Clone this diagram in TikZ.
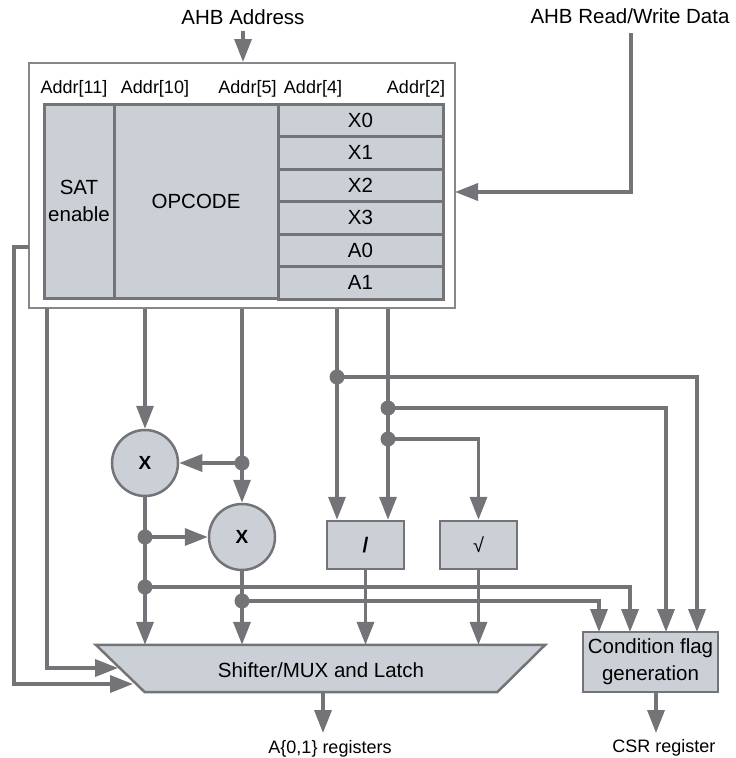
\documentclass[tikz,border=0pt]{standalone}
\usepackage{fontspec}
\setmainfont{Liberation Sans}
\usetikzlibrary{arrows.meta,calc}
\definecolor{ln}{RGB}{116,116,120}
\definecolor{fl}{RGB}{202,208,214}
\definecolor{bx}{RGB}{135,135,138}
\begin{document}
\begin{tikzpicture}[x=1pt,y=-1pt,
  wire/.style={draw=ln,line width=3.6pt},
  arr/.style={wire,-{Triangle[length=23pt,width=17pt]}},
  blk/.style={draw=ln,line width=3pt,fill=fl,inner sep=0pt,align=center,font=\fontsize{20.5}{27}\selectfont},
  circ/.style={circle,draw=ln,line width=2.5pt,fill=fl,minimum size=66pt,inner sep=0pt,font=\fontsize{19}{22}\selectfont\bfseries},
  big/.style={font=\fontsize{20.5}{27}\selectfont,inner sep=0pt},
  sml/.style={font=\fontsize{18}{22}\selectfont,inner sep=0pt},
]
\useasboundingbox (0,0) rectangle (736,758);

% titles
\node[big] (t1) at (243,17) {AHB Address};
\node[big] (t2) at (630,16) {AHB Read/Write Data};

% outer box
\node[draw=bx,line width=2pt,fill=white,minimum width=426pt,minimum height=245pt,inner sep=0pt] (outer) at (242,185.5) {};

% address labels
\node[sml] (a11) at (74,89) {Addr[11]};
\node[sml] (a10) at (155,89) {Addr[10]};
\node[sml] (a5) at (247.5,89) {Addr[5]};
\node[sml] (a4) at (313,89) {Addr[4]};
\node[sml] (a2) at (416,89) {Addr[2]};

% fields
\node[blk,minimum width=70pt,minimum height=194pt] (sat) at (79,201) {SAT\\enable};
\node[blk,minimum width=164pt,minimum height=194pt] (opc) at (196,201) {OPCODE};
\node[blk,minimum width=165pt,minimum height=32.5pt] (X0) at (360.5,120.25) {X0};
\node[blk,minimum width=165pt,minimum height=32.5pt] (X1) at (360.5,152.75) {X1};
\node[blk,minimum width=165pt,minimum height=32.5pt] (X2) at (360.5,185.25) {X2};
\node[blk,minimum width=165pt,minimum height=32.5pt] (X3) at (360.5,217.75) {X3};
\node[blk,minimum width=165pt,minimum height=32.5pt] (A0) at (360.5,250.25) {A0};
\node[blk,minimum width=165pt,minimum height=32.5pt] (A1) at (360.5,282.75) {A1};

% operators
\node[circ] (m1) at (145,463) {X};
\node[circ] (m2) at (242,537) {X};
\node[blk,line width=2.5pt,minimum width=77pt,minimum height=48pt,font=\fontsize{21}{24}\selectfont\bfseries] (div) at (365.5,545) {/};
\node[blk,line width=2.5pt,minimum width=77pt,minimum height=48pt,font=\fontsize{20}{24}\selectfont] (sq) at (478.5,545) {√};
\node[blk,line width=2.5pt,minimum width=135pt,minimum height=60pt] (cond) at (650.5,662) {Condition flag\\generation};

% mux (trapezoid)
\node[minimum width=449pt,minimum height=47pt,inner sep=0pt] (mux) at (320.5,668.5) {};
\draw[draw=ln,line width=2.5pt,fill=fl] (mux.north west) -- (mux.north east) -- ($(mux.south east)+(-48,0)$) -- ($(mux.south west)+(49,0)$) -- cycle;
\node[big] (muxt) at (321,670) {Shifter/MUX and Latch};

% output labels
\node[sml] (l1) at (330,749) {A\{0,1\} registers};
\node[sml] (l2) at (664,748) {CSR register};

% junctions and ends
\coordinate (j1) at (242,463);
\coordinate (j2) at (145,537);
\coordinate (j3) at (145,587);
\coordinate (j4) at (242,601);
\coordinate (j5) at (337,377);
\coordinate (j6) at (388,408);
\coordinate (j7) at (388,439);
\coordinate (k0) at (47,308);
\coordinate (k1) at (29,247);
\coordinate (kc) at (14,684);
\coordinate (mi1) at (118,668);
\coordinate (mi2) at (133,684);
\coordinate (cA) at (599,632);
\coordinate (cB) at (630,632);
\coordinate (cC) at (666,632);
\coordinate (cD) at (697,632);
\coordinate (dIn) at (455,192);
\coordinate (dTop) at (631,33);
\coordinate (o1) at (323,733);
\coordinate (o2) at (656,733);

% connectors
\draw[arr] (243,31) -- (t1.south |- outer.north);
\draw[arr] (dTop) |- (dIn);
\draw[arr] (k1) -| (kc) -- (mi2);
\draw[arr] (k0) |- (mi1);
\draw[arr] (outer.south -| m1) -- (m1);
\draw[wire] (outer.south -| j1) -- (j1);
\draw[arr] (j1) -- (m1);
\draw[arr] (j1) -- (m2);
\draw[wire] (m1) -- (j2) -- (j3);
\draw[arr] (j2) -- (m2);
\draw[arr] (j3) -- (j3 |- mux.north);
\draw[wire] (m2) -- (j4);
\draw[arr] (j4) -- (j4 |- mux.north);
\draw[arr] (j3) -| (cB);
\draw[arr] (j4) -| (cA);
\draw[wire] (outer.south -| j5) -- (j5);
\draw[arr] (j5) -- (j5 |- div.north);
\draw[arr] (j5) -| (cD);
\draw[wire] (outer.south -| j6) -- (j6) -- (j7);
\draw[arr] (j7) -- (j7 |- div.north);
\draw[arr] (j6) -| (cC);
\draw[arr] (j7) -| (sq.north);
\draw[arr] (div.south) -- (div.south |- mux.north);
\draw[arr] (sq.south) -- (sq.south |- mux.north);
\draw[arr] (o1 |- mux.south) -- (o1);
\draw[arr] (o2 |- cond.south) -- (o2);

% dots
\foreach \j in {j1,j2,j3,j4,j5,j6,j7} \fill[ln] (\j) circle (7.5pt);
\end{tikzpicture}
\end{document}
